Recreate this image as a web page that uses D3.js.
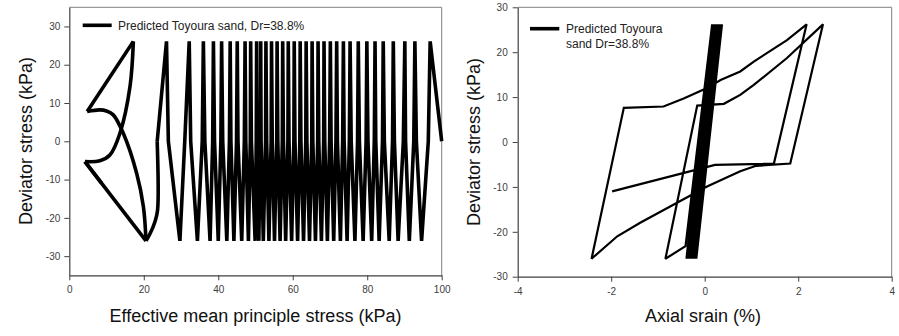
<!DOCTYPE html>
<html><head><meta charset="utf-8">
<script src="https://cdn.jsdelivr.net/npm/d3@7"></script>
<style>
html,body{margin:0;padding:0;background:#fff;}
svg{display:block;}
text{font-family:Arial,"Liberation Sans",sans-serif;}
</style></head><body>
<svg id="chart" width="899" height="336"></svg>
<script>
// ---------- tick labels ----------
const leftXTicks = [0, 20, 40, 60, 80, 100];
const leftYTicks = [-30, -20, -10, 0, 10, 20, 30];
const rightXTicks = [-4, -2, 0, 2, 4];
const rightYTicks = [-30, -20, -10, 0, 10, 20, 30];

// ---------- left panel: effective stress path (p', q) ----------
const startP = 100, startQ = 0;
const peakQ = 26.1, troughQ = -26;
// p' at each compression peak (q = +26), time order
const peakP = [96.9, 92.8, 90.1, 87.0, 84.3, 82.1, 79.9, 77.6, 75.4, 73.6, 71.8, 70.1,
  68.4, 66.8, 65.2, 63.6, 62.0, 60.4, 58.8, 57.3, 55.8, 54.3, 52.8, 51.4, 50.3, 48.7,
  47.2, 45.1, 43.2, 40.9, 38.7, 36.0, 32.2, 26.1];
// p' where each unloading branch crosses q = 0
const unloadCrossP = [96.4, 92.5, 89.7, 86.8, 84.1, 81.9, 79.7, 77.4, 75.2, 73.4, 71.6, 69.9,
  68.3, 66.7, 65.1, 63.5, 61.9, 60.3, 58.7, 57.2, 55.7, 54.2, 52.7, 51.3, 50.2, 48.6,
  47.0, 44.9, 43.0, 40.7, 38.5, 35.7, 31.0];
// p' at each extension trough (q = -26), time order
const troughP = [94.6, 91.3, 88.3, 85.9, 83.2, 81.2, 78.9, 76.7, 74.6, 72.8, 71.0, 69.3,
  67.7, 66.1, 64.5, 62.9, 61.3, 59.7, 58.1, 56.6, 55.1, 53.6, 52.1, 50.9, 49.9, 48.1,
  46.3, 44.2, 42.3, 40.0, 37.8, 34.4, 29.7];
// p' where each reloading branch crosses q = 0
const reloadCrossP = [93.2, 90.3, 87.3, 84.6, 82.3, 80.2, 77.9, 75.7, 73.8, 72.0, 70.3, 68.6,
  67.0, 65.4, 63.8, 62.2, 60.6, 59.0, 57.5, 56.0, 54.5, 53.0, 51.5, 50.4, 48.9, 47.4,
  45.3, 43.4, 41.2, 39.0, 36.4, 32.6, 26.6];
// last unloading before liquefaction (after the last peak)
const transitionP = [23.6, 23.7, 23.0, 21.7, 20.6];
const transitionQ = [0, -18, -21, -24.1, -26];
// butterfly loop (traced twice): curved branch A, straight, curved branch B, straight
const wingAP = [20.6, 19.9, 18.1, 14.5, 11.8, 10.0, 8.2, 4.8];
const wingAQ = [-26, -17.1, -8.4, 2.1, 6.9, 7.9, 8.2, 7.8];
const wingBP = [17.2, 16.3, 13.6, 10.9, 8.2, 4.2];
const wingBQ = [26.1, 14.3, 2.1, -3.6, -5.1, -5.3];
const endP = 8.7, endQ = -11;

// ---------- right panel: axial strain vs deviator stress ----------
const wedgePeakStrain = [0.37, 0.36, 0.345, 0.33, 0.32, 0.305, 0.29, 0.28, 0.265, 0.25,
  0.24, 0.225, 0.21, 0.2, 0.185, 0.17, 0.16];
const wedgeTroughStrain = [-0.18, -0.195, -0.21, -0.22, -0.235, -0.25, -0.265, -0.28,
  -0.29, -0.305, -0.32, -0.335, -0.35, -0.36, -0.375, -0.39];
const wedgePeakQ = 26.2, wedgeTroughQ = -26;
const largeStrain = [-0.41, -0.84, -0.16, 0.41, 0.76, 1.05, 1.76, 2.53, 1.83, 1.10, 0.76,
  0.05, -0.66, -1.38, -1.87, -2.42, -1.73, -0.88, -0.45, 0.05, 0.34, 0.76, 1.05, 1.76,
  2.18, 1.48, 0.22, -1.98];
const largeQ = [-23.2, -26, 8.1, 8.5, 10.5, 12.7, 18.7, 26.2, -4.8, -5.3, -6.5,
  -9.9, -13.9, -18.0, -21.0, -26, 7.6, 7.9, 9.7, 12.0, 13.8, 15.7, 17.9, 22.7,
  26.2, -4.8, -5.1, -11.0];

const svg = d3.select("#chart");
const FONT = 'Arial,"Liberation Sans",sans-serif';

function panel(opts) {
  const g = svg.append("g");
  const x = d3.scaleLinear().domain(opts.xDomain).range([opts.x0, opts.x1]);
  const y = d3.scaleLinear().domain(opts.yDomain).range([opts.y1, opts.y0]);
  g.append("path")
    .attr("d", `M${opts.x0},${opts.y0}H${opts.x1}V${opts.y1}`)
    .attr("fill", "none").attr("stroke", "#808080").attr("stroke-width", 1);
  const fmt = d => String(d);
  const xa = g.append("g").attr("transform", `translate(0,${opts.y1})`)
    .call(d3.axisBottom(x).tickValues(opts.xTicks).tickFormat(fmt).tickSize(5).tickPadding(6).tickSizeOuter(0));
  const ya = g.append("g").attr("transform", `translate(${opts.x0},0)`)
    .call(d3.axisLeft(y).tickValues(opts.yTicks).tickFormat(fmt).tickSize(5).tickPadding(opts.yPad).tickSizeOuter(0));
  [xa, ya].forEach(a => {
    a.select(".domain").attr("stroke", "#404040").attr("stroke-width", 1.2);
    a.selectAll(".tick line").attr("stroke", "#404040");
    a.selectAll(".tick text").attr("font-family", FONT).attr("font-size", 10).attr("fill", "#404040");
  });
  return {g, x, y};
}

// ----- left panel -----
const L = panel({xDomain: [0, 100], yDomain: [-35, 35], x0: 69.3, x1: 441.7, y0: 7.3, y1: 275.3,
  xTicks: leftXTicks, yTicks: leftYTicks, yPad: 4});
const lineL = d3.line().x(d => L.x(d[0])).y(d => L.y(d[1]));
const curveL = d3.line().x(d => L.x(d[0])).y(d => L.y(d[1])).curve(d3.curveCatmullRom.alpha(0.5));
const LW = 3.6;
function strokeL(pts, gen) {
  L.g.append("path").datum(pts).attr("d", gen)
    .attr("fill", "none").attr("stroke", "#000").attr("stroke-width", LW)
    .attr("stroke-linejoin", "miter").attr("stroke-miterlimit", 2.5);
}
const cyc = [[startP, startQ]];
peakP.forEach((p, i) => {
  cyc.push([p, peakQ]);
  if (i < troughP.length) {
    cyc.push([unloadCrossP[i], 0]);
    cyc.push([troughP[i], troughQ]);
    cyc.push([reloadCrossP[i], 0]);
  }
});
cyc.push([transitionP[0], transitionQ[0]]);
strokeL(cyc, lineL);
strokeL(transitionP.map((p, i) => [p, transitionQ[i]]), curveL);
const wingA = wingAP.map((p, i) => [p, wingAQ[i]]);
const wingB = wingBP.map((p, i) => [p, wingBQ[i]]);
strokeL(wingA, curveL);
strokeL(wingB, curveL);
strokeL([wingA[wingA.length - 1], wingB[0]], lineL);
strokeL([wingB[wingB.length - 1], wingA[0]], lineL);
strokeL([wingB[wingB.length - 1], [endP, endQ]], lineL);

L.g.append("line").attr("x1", 82.7).attr("x2", 111.7).attr("y1", 25.3).attr("y2", 25.3)
  .attr("stroke", "#000").attr("stroke-width", 3.6);
L.g.append("text").attr("x", 118).attr("y", 29.5).attr("font-size", 12).attr("fill", "#222")
  .attr("font-family", FONT).text("Predicted Toyoura sand, Dr=38.8%");
L.g.append("text").attr("x", 255.5).attr("y", 322).attr("text-anchor", "middle")
  .attr("font-size", 18).attr("fill", "#111").attr("font-family", FONT)
  .text("Effective mean principle stress (kPa)");
L.g.append("text").attr("transform", "translate(32,141) rotate(-90)").attr("text-anchor", "middle")
  .attr("font-size", 18).attr("fill", "#111").attr("font-family", FONT)
  .text("Deviator stress (kPa)");

// ----- right panel -----
const R = panel({xDomain: [-4, 4], yDomain: [-30, 30], x0: 517.7, x1: 891.7, y0: 7.3, y1: 276.7,
  xTicks: rightXTicks, yTicks: rightYTicks, yPad: 5});
const rightPts = [[0, 0]];
wedgePeakStrain.forEach((e, i) => {
  rightPts.push([e, wedgePeakQ]);
  if (i < wedgeTroughStrain.length) rightPts.push([wedgeTroughStrain[i], wedgeTroughQ]);
});
largeStrain.forEach((e, i) => rightPts.push([e, largeQ[i]]));
R.g.append("path").datum(rightPts)
  .attr("d", d3.line().x(d => R.x(d[0])).y(d => R.y(d[1])))
  .attr("fill", "none").attr("stroke", "#000").attr("stroke-width", 2.2)
  .attr("stroke-linejoin", "miter").attr("stroke-miterlimit", 2);
R.g.append("line").attr("x1", 530).attr("x2", 559.3).attr("y1", 28.7).attr("y2", 28.7)
  .attr("stroke", "#000").attr("stroke-width", 3.6);
R.g.append("text").attr("x", 566).attr("y", 33).attr("font-size", 12).attr("fill", "#222")
  .attr("font-family", FONT).text("Predicted Toyoura");
R.g.append("text").attr("x", 566).attr("y", 47.5).attr("font-size", 12).attr("fill", "#222")
  .attr("font-family", FONT).text("sand Dr=38.8%");
R.g.append("text").attr("x", 703).attr("y", 322).attr("text-anchor", "middle")
  .attr("font-size", 18).attr("fill", "#111").attr("font-family", FONT)
  .text("Axial srain (%)");
R.g.append("text").attr("transform", "translate(480,142) rotate(-90)").attr("text-anchor", "middle")
  .attr("font-size", 18).attr("fill", "#111").attr("font-family", FONT)
  .text("Deviator stress (kPa)");
</script>
</body></html>
